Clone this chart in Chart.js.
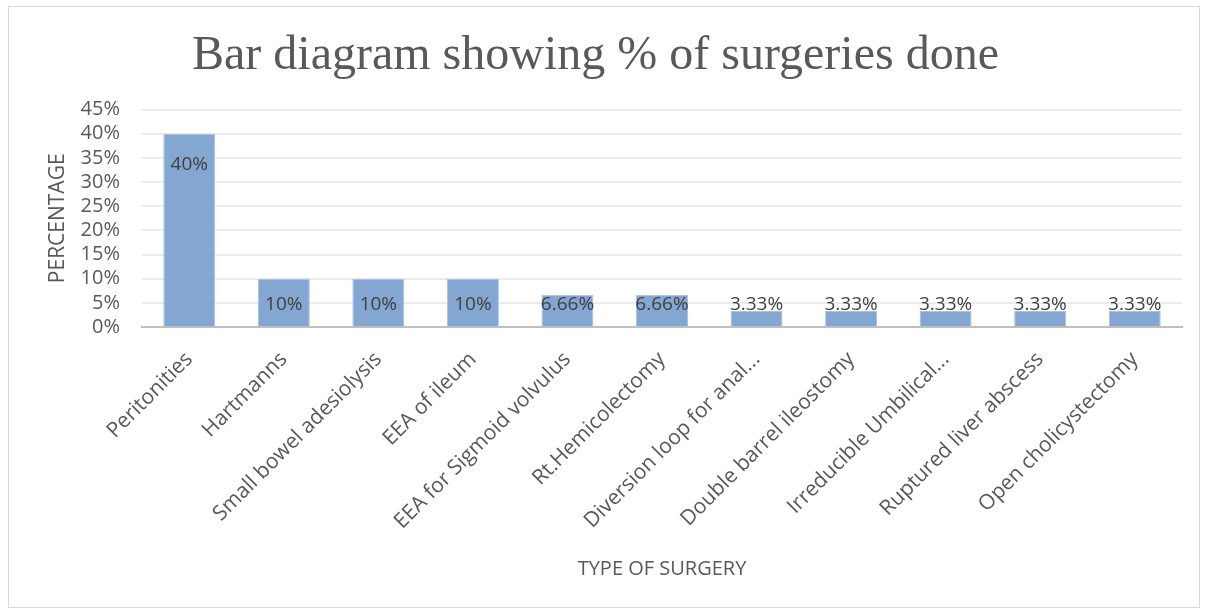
<!DOCTYPE html>
<html>
<head>
<meta charset="utf-8">
<script src="https://cdn.jsdelivr.net/npm/chart.js@4"></script>
<style>
  body { margin: 0; background: #fff; }
  #box { position: absolute; left: 8px; top: 6px; width: 1190px; height: 600px; border: 1px solid #d9d9d9; }
  canvas { display: block; }
</style>
</head>
<body>
<div id="box"><canvas id="surgChart" width="1190" height="600"></canvas></div>
<script>
const labels = ["Peritonities", "Hartmanns", "Small bowel adesiolysis", "EEA of ileum", "EEA for Sigmoid volvulus", "Rt.Hemicolectomy", "Diversion loop for anal...", "Double barrel ileostomy", "Irreducible Umbilical...", "Ruptured liver abscess", "Open cholicystectomy"];
const dataValues = [40, 10, 10, 10, 6.66, 6.66, 3.33, 3.33, 3.33, 3.33, 3.33];
const valueLabels = ["40%", "10%", "10%", "10%", "6.66%", "6.66%", "3.33%", "3.33%", "3.33%", "3.33%", "3.33%"];

const textColor = '#595959';

// Excel style "inside end" labels, pushed up when the bar is too short
const barLabels = {
    id: 'barLabels',
    afterDatasetsDraw(chart) {
        const ctx = chart.ctx;
        const meta = chart.getDatasetMeta(0);
        const base = chart.scales.y.getPixelForValue(0);
        ctx.save();
        ctx.font = '19px "Open Sans"';
        ctx.fillStyle = '#404040';
        ctx.textAlign = 'center';
        ctx.textBaseline = 'middle';
        meta.data.forEach((bar, i) => {
            const y = Math.min(bar.y + 31, base - 22);
            ctx.fillText(valueLabels[i], bar.x, y);
        });
        ctx.restore();
    }
};

const ctx = document.getElementById('surgChart').getContext('2d');

new Chart(ctx, {
    type: 'bar',
    data: {
        labels: labels,
        datasets: [{
            data: dataValues,
            backgroundColor: '#84a7d1',
            borderColor: '#a9c2e0',
            borderWidth: 1,
            barPercentage: 0.55,
            categoryPercentage: 1
        }]
    },
    options: {
        responsive: false,
        animation: false,
        layout: { padding: { right: 17 } },
        plugins: {
            legend: { display: false },
            tooltip: { enabled: false },
            title: {
                display: true,
                text: 'Bar diagram showing % of surgeries done',
                color: textColor,
                font: { family: '"Liberation Serif"', size: 48, weight: 'normal' },
                padding: { top: 21, bottom: 24 }
            }
        },
        scales: {
            x: {
                grid: { display: false },
                border: { color: '#bfbfbf', width: 2 },
                ticks: {
                    color: textColor,
                    font: { family: '"Open Sans"', size: 21 },
                    minRotation: 45,
                    maxRotation: 45,
                    autoSkip: false,
                    padding: 12
                },
                title: {
                    display: true,
                    text: 'TYPE OF SURGERY',
                    color: textColor,
                    font: { family: '"Open Sans"', size: 20 },
                    padding: { top: 0, bottom: 26 }
                },
                afterFit(scale) { scale.height = 280; }
            },
            y: {
                min: 0,
                max: 45,
                grid: { color: '#ececec', lineWidth: 2, drawTicks: false },
                border: { display: false },
                ticks: {
                    stepSize: 5,
                    autoSkip: false,
                    color: textColor,
                    font: { family: '"Open Sans"', size: 20 },
                    padding: 22,
                    callback: v => v + '%'
                },
                title: {
                    display: true,
                    text: 'PERCENTAGE',
                    color: textColor,
                    font: { family: '"Open Sans"', size: 21 },
                    padding: { top: 36, bottom: 0 }
                },
                afterFit(scale) { scale.width = 133; }
            }
        }
    },
    plugins: [barLabels]
});
</script>
</body>
</html>
